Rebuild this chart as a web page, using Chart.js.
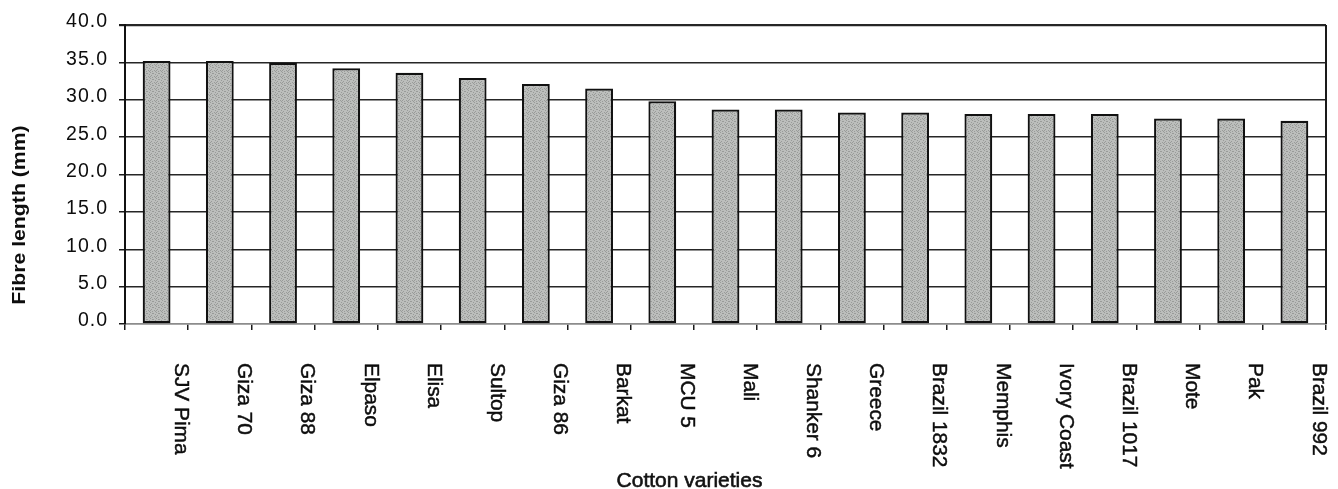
<!DOCTYPE html>
<html>
<head>
<meta charset="utf-8">
<title>Fibre length of cotton varieties</title>
<script src="https://cdn.jsdelivr.net/npm/chart.js@4.4.1/dist/chart.umd.min.js"></script>
<style>
  html, body { margin: 0; padding: 0; background: #fff; }
  #wrap { width: 1338px; height: 489px; }
</style>
</head>
<body>
<div id="wrap"><canvas id="c" width="1338" height="489"></canvas></div>
<script>
// Cotton varieties and their mean fibre length (mm)
const varieties = ['SJV Pima', 'Giza 70', 'Giza 88', 'Elpaso', 'Elisa', 'Sultop', 'Giza 86', 'Barkat', 'MCU 5',
  'Mali', 'Shanker 6', 'Greece', 'Brazil 1832', 'Memphis', 'Ivory Coast', 'Brazil 1017', 'Mote', 'Pak', 'Brazil 992'];
const fibreLength = [35.2, 35.2, 34.9, 34.2, 33.6, 32.9, 32.1, 31.5, 29.8,
  28.7, 28.7, 28.3, 28.3, 28.1, 28.1, 28.1, 27.5, 27.5, 27.2];
const yTicks = [0, 5, 10, 15, 20, 25, 30, 35, 40];
const yTitle = 'Fibre length (mm)';
const xTitle = 'Cotton varieties';

// Fine stippled grey fill for the bars
function stipple() {
  const tile = document.createElement('canvas');
  tile.width = 6; tile.height = 6;
  const t = tile.getContext('2d');
  t.fillStyle = '#bcbebc';
  t.fillRect(0, 0, 6, 6);
  t.fillStyle = '#999b99';
  [[0,0],[3,1],[5,2],[1,3],[4,4],[2,5],[5,5],[2,1],[0,4]].forEach(([x, y]) => t.fillRect(x, y, 1, 1));
  return t.createPattern(tile, 'repeat');
}

const TEXT = '#0d0d0d';
const FONT = "'Liberation Sans', Arial, sans-serif";

// text with a hairline outline so it reads as solidly as printed type
function heavyText(ctx, s, x, y, w) {
  ctx.lineWidth = w;
  ctx.strokeStyle = ctx.fillStyle;
  ctx.strokeText(s, x, y);
  ctx.fillText(s, x, y);
}

const decorations = {
  id: 'decorations',
  beforeDraw(chart) {
    chart.ctx.letterSpacing = '1px';
  },
  afterDraw(chart) {
    const { ctx, chartArea: a, scales: { x } } = chart;
    ctx.save();
    ctx.letterSpacing = '0px';

    // right-hand frame line
    ctx.strokeStyle = '#1a1a1a';
    ctx.lineWidth = 2;
    ctx.beginPath();
    ctx.moveTo(a.right, a.top);
    ctx.lineTo(a.right, a.bottom);
    ctx.stroke();

    // category labels, turned to read downwards
    const step = x.getPixelForValue(1) - x.getPixelForValue(0);
    ctx.fillStyle = TEXT;
    ctx.font = '19.5px ' + FONT;
    ctx.textAlign = 'left';
    ctx.textBaseline = 'alphabetic';
    varieties.forEach((name, i) => {
      const cx = x.getPixelForValue(i) + step * 0.4;
      ctx.save();
      ctx.translate(cx, a.bottom + 39);
      ctx.rotate(Math.PI / 2);
      ctx.scale(1.07, 1);
      heavyText(ctx, name, 0, 7, 0.45);
      ctx.restore();
    });

    // value axis title
    ctx.save();
    ctx.translate(18.5, 215);
    ctx.rotate(-Math.PI / 2);
    ctx.scale(1.18, 1);
    ctx.font = 'bold 18px ' + FONT;
    ctx.textAlign = 'center';
    ctx.fillText(yTitle, 0, 6.4);
    ctx.restore();

    // category axis title
    ctx.font = '21px ' + FONT;
    ctx.textAlign = 'center';
    ctx.fillStyle = '#111';
    heavyText(ctx, xTitle, (a.left + a.right) / 2 - 36, 487, 0.6);

    ctx.restore();
  }
};

new Chart(document.getElementById('c'), {
  type: 'bar',
  data: {
    labels: varieties,
    datasets: [{
      data: fibreLength,
      backgroundColor: stipple(),
      borderColor: '#111',
      borderWidth: 2.2,
      borderSkipped: false,
      barPercentage: 0.44,
      categoryPercentage: 1
    }]
  },
  options: {
    responsive: false,
    devicePixelRatio: 1,
    animation: false,
    layout: { padding: { top: 25, right: 12, bottom: 0, left: 0 } },
    plugins: { legend: { display: false }, tooltip: { enabled: false } },
    scales: {
      x: {
        offset: true,
        afterFit: s => { s.height = 489 - 324; },
        ticks: { display: false },
        grid: { offset: true, drawOnChartArea: false, drawTicks: true, tickLength: 6, color: '#1a1a1a', lineWidth: 1.5 },
        border: { display: true, color: '#8c8c8c', width: 1.5 }
      },
      y: {
        min: 0,
        max: 40,
        afterFit: s => { s.width = 125; },
        afterBuildTicks: s => { s.ticks = yTicks.map(v => ({ value: v })); },
        ticks: {
          callback: v => Number(v).toFixed(1),
          font: { family: FONT, size: 19.5 },
          color: TEXT,
          padding: 11,
          labelOffset: -3
        },
        grid: {
          color: c => (c.tick && c.tick.value === 0 ? '#8c8c8c' : '#262626'),
          lineWidth: c => (c.tick && c.tick.value === 40 ? 2.2 : 1.5),
          tickLength: 6,
          tickColor: '#1a1a1a'
        },
        border: { display: true, color: '#111', width: 2 }
      }
    }
  },
  plugins: [decorations]
});
</script>
</body>
</html>
